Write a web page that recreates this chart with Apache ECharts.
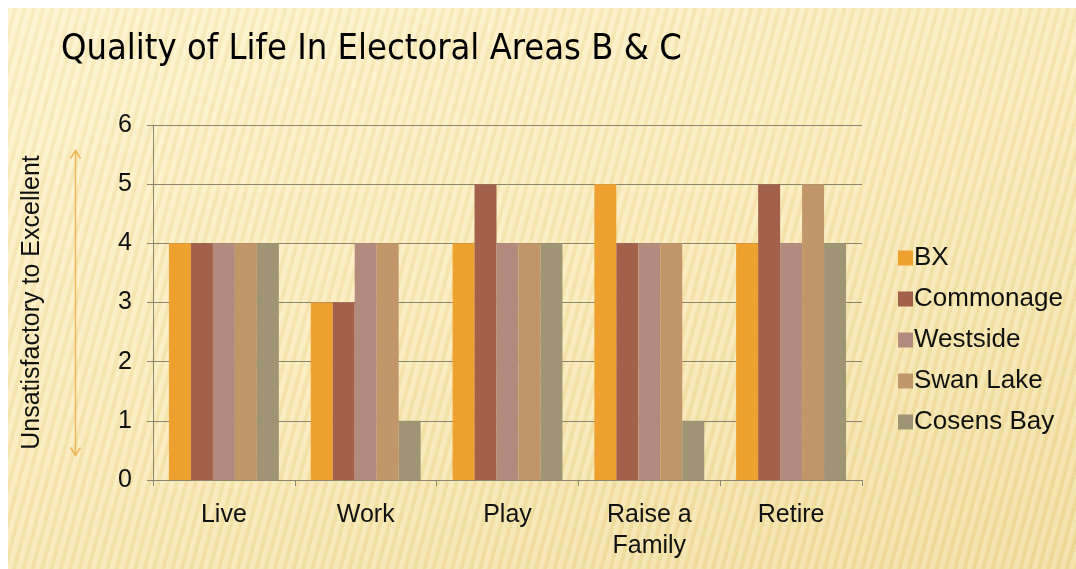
<!DOCTYPE html>
<html>
<head>
<meta charset="utf-8">
<script src="https://cdn.jsdelivr.net/npm/echarts@6/dist/echarts.min.js"></script>
<style>
html,body{margin:0;padding:0;background:#fff;width:1076px;height:569px;overflow:hidden;}
#bg{position:absolute;left:8px;top:8px;width:1068px;height:561px;
background:
 repeating-linear-gradient(105deg, rgba(255,255,255,0.18) 0px, rgba(255,255,255,0.18) 4px, rgba(200,170,80,0.10) 6px, rgba(200,170,80,0.10) 9px),
 linear-gradient(160deg, #FDF2CA 0%, #FBEBB8 45%, #F0DC9A 100%);}
#chart{position:absolute;left:0;top:0;width:1076px;height:569px;}
</style>
</head>
<body>
<div id="bg"></div>
<div id="chart"></div>
<script>
const categories = ['Live', 'Work', 'Play', 'Raise a Family', 'Retire'];
const seriesNames = ['BX', 'Commonage', 'Westside', 'Swan Lake', 'Cosens Bay'];
const bx = [4, 3, 4, 5, 4];
const commonage = [4, 3, 5, 4, 5];
const westside = [4, 4, 4, 4, 4];
const swanLake = [4, 4, 4, 4, 5];
const cosensBay = [4, 1, 4, 1, 4];
const yTicks = [0, 1, 2, 3, 4, 5, 6];
const titleText = 'Quality of Life In Electoral Areas B & C';
const yAxisName = 'Unsatisfactory to Excellent';

const colors = ['#EEA12E', '#A3614C', '#B38A7E', '#C1976A', '#9F9473'];
const values = [bx, commonage, westside, swanLake, cosensBay];

const chart = echarts.init(document.getElementById('chart'));
const font = 'Liberation Sans, Arial, sans-serif';
const narrow = '"DejaVu Sans Condensed", sans-serif';
chart.setOption({
  animation: false,
  color: colors,
  title: {
    text: titleText, left: 56, top: 27,
    textStyle: { fontFamily: narrow, fontSize: 36, fontWeight: 'normal', color: '#000' }
  },
  legend: {
    orient: 'vertical', left: 893, top: 240, itemGap: 15,
    itemWidth: 15, itemHeight: 15, icon: 'rect',
    textStyle: { fontFamily: font, fontSize: 26, color: '#111', padding: [0, 0, 0, -4] },
    data: seriesNames
  },
  grid: { left: 153, right: 214, top: 125, bottom: 89 },
  xAxis: {
    type: 'category', data: categories,
    axisLine: { lineStyle: { color: '#8C8670', width: 1 } },
    axisTick: { show: true, length: 6, lineStyle: { color: '#8C8670' } },
    axisLabel: {
      fontFamily: font, fontSize: 25, color: '#111', margin: 20, lineHeight: 31,
      formatter: v => v === 'Raise a Family' ? 'Raise a\nFamily' : v
    }
  },
  yAxis: {
    type: 'value', min: yTicks[0], max: yTicks[yTicks.length - 1], interval: 1,
    name: yAxisName, nameLocation: 'middle', nameGap: 108,
    nameTextStyle: { fontFamily: font, fontSize: 25, color: '#111' },
    axisLine: { show: true, lineStyle: { color: '#8C8670' } },
    axisTick: { show: true, length: 6, lineStyle: { color: '#8C8670' } },
    axisLabel: { fontFamily: font, fontSize: 25, color: '#111', margin: 21 },
    splitLine: { lineStyle: { color: '#8C8670', width: 1 } }
  },
  series: seriesNames.map((n, i) => ({
    name: n, type: 'bar', data: values[i],
    barGap: '0%', barCategoryGap: '22.5%',
    itemStyle: { color: colors[i] }
  })),
  graphic: [{
    type: 'group', left: 68, top: 148,
    children: [
      { type: 'line', shape: { x1: 5, y1: 0, x2: 5, y2: 305 }, style: { stroke: '#EFB65A', lineWidth: 1.5 } },
      { type: 'polyline', shape: { points: [[0, 8], [5, 0], [10, 8]] }, style: { stroke: '#EFB65A', lineWidth: 1.5, fill: null } },
      { type: 'polyline', shape: { points: [[0, 297], [5, 305], [10, 297]] }, style: { stroke: '#EFB65A', lineWidth: 1.5, fill: null } }
    ]
  }]
});
</script>
</body>
</html>
